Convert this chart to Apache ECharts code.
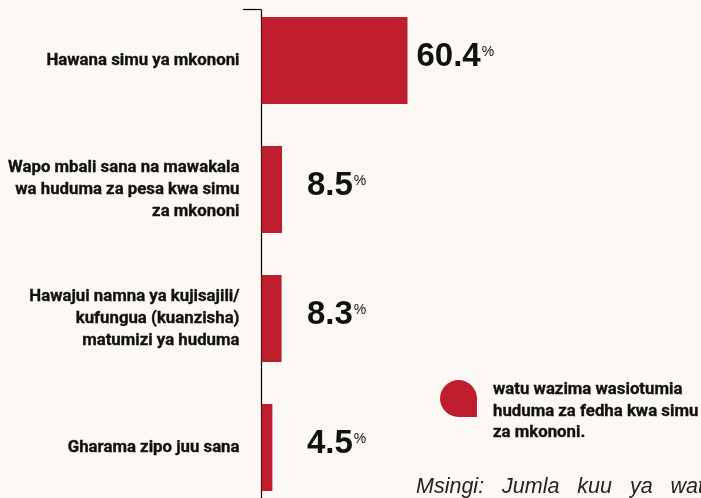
<!DOCTYPE html>
<html>
<head>
<meta charset="utf-8">
<script src="https://cdn.jsdelivr.net/npm/echarts@6/dist/echarts.min.js"></script>
<style>
  html, body { margin: 0; padding: 0; background: #fcf9f4; }
  #chart { width: 701px; height: 498px; }
</style>
</head>
<body>
<div id="chart"></div>
<script>
// Sababu za kutotumia huduma za fedha kwa simu za mkononi (%)
const categories = [
  'Hawana simu ya mkononi',
  'Wapo mbali sana na mawakala\nwa huduma za pesa kwa simu\nza mkononi',
  'Hawajui namna ya kujisajili/\nkufungua (kuanzisha)\nmatumizi ya huduma',
  'Gharama zipo juu sana'
];
const values = [60.4, 8.5, 8.3, 4.5];
const legendLines = ['watu wazima wasiotumia', 'huduma za fedha kwa simu', 'za mkononi.'];
const seriesName = legendLines.join(' ');
const footnote = 'Msingi:   Jumla   kuu   ya   watu';

const RED = '#be1e2d';
const INK = '#111111';
const COND = 'Roboto, "Liberation Sans", sans-serif';
const SANS = '"Liberation Sans", Arial, Helvetica, sans-serif';

const legendFont = {
  color: INK,
  fontFamily: COND,
  fontWeight: 'bold',
  fontSize: 16.8,
  lineHeight: 21.5,
  textBorderColor: INK,
  textBorderWidth: 0.35
};

const chart = echarts.init(document.getElementById('chart'), null, { renderer: 'canvas' });

chart.setOption({
  backgroundColor: '#fcf9f4',
  animation: false,
  grid: { left: 261.5, top: -4, height: 516, width: 241.7, outerBoundsMode: 'none', containLabel: false },
  xAxis: {
    type: 'value', min: 0, max: 100,
    show: false
  },
  yAxis: {
    type: 'category',
    data: categories,
    inverse: true,
    axisLine: { show: false },
    axisTick: { show: false },
    axisLabel: {
      margin: 22,
      align: 'right',
      color: INK,
      fontFamily: COND,
      fontWeight: 'bold',
      fontSize: 16.8,
      lineHeight: 22,
      textBorderColor: INK,
      textBorderWidth: 0.35
    }
  },
  legend: {
    left: 440, top: 353.25,
    padding: 0,
    orient: 'vertical',
    itemWidth: 37, itemHeight: 37,
    icon: 'path://M18,0 A18,18 0 0 1 36,18 L36,36 L18,36 A18,18 0 0 1 0,18 A18,18 0 0 1 18,0 Z',
    selectedMode: false,
    // a blank spacer line drops the wrapped text a little below the marker's centre
    formatter: () => '{s| }\n' + legendLines.map(l => '{t|' + l + '}').join('\n'),
    textStyle: Object.assign({}, legendFont, {
      padding: [0, 0, 0, 11],
      rich: {
        s: Object.assign({}, legendFont, { lineHeight: 26 }),
        t: legendFont
      }
    }),
    data: [seriesName]
  },
  series: [{
    name: seriesName,
    type: 'bar',
    data: values,
    barWidth: 87,
    itemStyle: { color: RED },
    label: {
      show: true,
      position: 'right',
      distance: 9,
      formatter: p => '{v|' + p.value + '}{p|%}',
      rich: {
        v: { fontFamily: SANS, fontWeight: 'bold', fontSize: 33, color: INK, lineHeight: 34 },
        p: { fontFamily: SANS, fontSize: 14, color: INK, verticalAlign: 'top', lineHeight: 14, padding: [6, 0, 0, 1] }
      }
    },
    labelLayout: params => ({
      x: Math.max(params.rect.x + params.rect.width + 9, 307),
      y: params.rect.y + params.rect.height / 2 - 4,
      align: 'left',
      verticalAlign: 'middle'
    })
  }],
  graphic: [
    {
      type: 'line',
      shape: { x1: 261.5, y1: 10, x2: 261.5, y2: 498 },
      style: { stroke: '#000', lineWidth: 1.2 },
      silent: true
    },
    {
      type: 'line',
      shape: { x1: 243, y1: 9.5, x2: 261.5, y2: 9.5 },
      style: { stroke: '#000', lineWidth: 1.2 },
      silent: true
    },
    {
      type: 'text',
      x: 416, y: 487,
      style: {
        text: footnote,
        font: 'italic 21.5px ' + SANS,
        fill: '#222222',
        textVerticalAlign: 'middle'
      },
      silent: true
    }
  ]
});
</script>
</body>
</html>
